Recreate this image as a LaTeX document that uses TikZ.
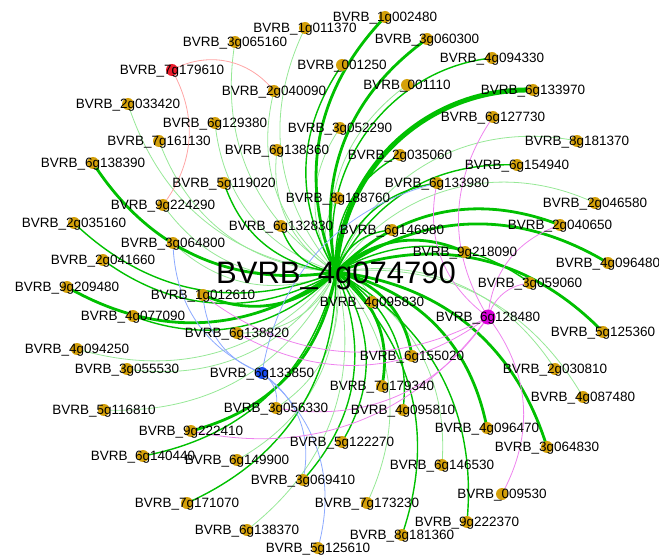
\documentclass[tikz,border=0pt]{standalone}
\usepackage{fontspec}
\setmainfont{Liberation Sans}
\pgfdeclarelayer{background}
\pgfsetlayers{background,main}
\definecolor{gold}{RGB}{212,160,10}
\definecolor{dg}{RGB}{0,192,0}
\definecolor{lg}{RGB}{150,232,150}
\definecolor{pk}{RGB}{255,165,165}
\definecolor{bl}{RGB}{140,170,255}
\definecolor{mg}{RGB}{238,130,238}
\definecolor{nred}{RGB}{235,30,45}
\definecolor{nblue}{RGB}{25,75,240}
\definecolor{nmag}{RGB}{220,0,220}
\tikzset{
  dot/.style={circle,fill=gold,inner sep=0pt,minimum size=12pt},
  lbl/.style={font=\fontsize{13.5}{14}\selectfont,inner sep=0pt,text height=9.7pt,text depth=0pt},
  biglbl/.style={font=\fontsize{31}{32}\selectfont,inner sep=0pt,text height=22pt,text depth=0pt},
  e0/.style={draw=lg,line width=0.8pt},
  e1/.style={draw=dg,line width=1.4pt},
  e2/.style={draw=dg,line width=2.8pt},
  e3/.style={draw=dg,line width=5pt},
  ep/.style={draw=pk,line width=0.8pt},
  eb/.style={draw=bl,line width=0.8pt},
  em/.style={draw=mg,line width=0.8pt},
}
\newcommand\GN[4][gold]{\node[dot,fill=#1,label={[lbl]center:BVRB\_#2}] (n#2) at (#3pt,-#4pt) {};}
\begin{document}
\begin{tikzpicture}[x=1pt,y=1pt]
\useasboundingbox (0,0) rectangle (659,-559);
\node[dot,fill=dg,minimum size=14pt,label={[biglbl]center:BVRB\_4g074790}] (c) at (336pt,-272pt) {};
\GN{1g002480}{385}{17}
\GN{1g011370}{305}{28}
\GN{3g065160}{235}{42}
\GN{3g060300}{427}{39}
\GN[nred]{7g179610}{172}{70}
\GN{001250}{342}{65}
\GN{4g094330}{492}{58}
\GN{001110}{407}{85}
\GN{2g040090}{274}{91}
\GN{2g033420}{128}{104}
\GN{6g133970}{533}{90}
\GN{6g129380}{215}{123}
\GN{6g127730}{493}{117}
\GN{3g052290}{340}{128}
\GN{8g181370}{577}{141}
\GN{7g161130}{159}{141}
\GN{6g138360}{277}{150}
\GN{6g138390}{93}{163}
\GN{2g035060}{400}{155}
\GN{6g154940}{517}{165}
\GN{5g119020}{224}{183}
\GN{6g133980}{437}{183}
\GN{8g188760}{338}{198}
\GN{9g224290}{163}{205}
\GN{2g046580}{595}{203}
\GN{2g035160}{74}{223}
\GN{6g132830}{281}{226}
\GN{2g040650}{560}{225}
\GN{3g064800}{173}{243}
\GN{6g146980}{392}{230}
\GN{9g218090}{465}{252}
\GN{2g041660}{103}{260}
\GN{4g096480}{608}{263}
\GN{9g209480}{67}{287}
\GN{3g059060}{530}{283}
\GN{1g012610}{203}{295}
\GN{4g095830}{372}{302}
\node[dot,fill=nmag,minimum size=15pt,label={[lbl]center:BVRB\_6g128480}] (n6g128480) at (488pt,-317pt) {};
\GN{4g077090}{133}{316}
\GN{6g138820}{237}{333}
\GN{5g125360}{603}{332}
\GN{4g094250}{77}{349}
\GN{3g055530}{127}{369}
\GN[nblue]{6g133850}{262}{373}
\GN{6g155020}{412}{356}
\GN{2g030810}{555}{369}
\GN{7g179340}{382}{386}
\GN{4g087480}{583}{397}
\GN{5g116810}{104}{410}
\GN{3g056330}{276}{408}
\GN{4g095810}{403}{410}
\GN{9g222410}{191}{431}
\GN{5g122270}{342}{442}
\GN{4g096470}{487}{428}
\GN{3g064830}{547}{447}
\GN{6g140440}{143}{456}
\GN{6g149900}{237}{460}
\GN{6g146530}{442}{465}
\GN{3g069410}{303}{480}
\GN{7g171070}{187}{503}
\GN{7g173230}{367}{503}
\GN{009530}{502}{494}
\GN{9g222370}{467}{522}
\GN{6g138370}{247}{530}
\GN{8g181360}{402}{535}
\GN{5g125610}{318}{548}
\begin{pgfonlayer}{background}
\foreach \t in {1g011370,3g065160,001110,2g040090,2g033420,6g129380,3g052290,7g161130,6g138360,8g188760,9g224290,6g138820,4g094250,3g055530,4g087480,5g116810,3g056330,2g030810,6g149900,6g146530,7g173230,6g138370,4g095830,3g064800}
  \draw[e0] (c.center) to[bend left=33] (n\t.center);
\foreach \t in {8g181370,2g046580}
  \draw[e0] (c.center) to[bend left=40] (n\t.center);
\foreach \t in {001250,2g035060,6g154940,5g119020,6g133980,2g035160,6g132830,6g146980,2g041660,3g059060,4g077090,4g095810,5g122270,6g140440,3g069410,7g171070,9g222370,8g181360}
  \draw[e1] (c.center) to[bend left=33] (n\t.center);
\draw[e1] (c.center) to[bend left=48] (n4g094330.center);
\foreach \t in {1g002480,3g060300,6g138390,9g209480,4g096480,2g040650,9g218090,5g125360,3g064830,6g155020,7g179340,4g096470,9g222410,1g012610}
  \draw[e2] (c.center) to[bend left=33] (n\t.center);
\draw[e3] (c.center) to[bend left=44] (n6g133970.center);
\draw[ep] (n7g179610.center) to[bend left=40] (n2g040090.center);
\draw[ep] (n7g179610.center) to[bend left=33] (n9g224290.center);
\foreach \t in {6g133980,3g064800,1g012610,5g125610,3g056330,3g069410}
  \draw[eb] (n6g133850.center) to[bend left=33] (n\t.center);
\foreach \t in {6g127730,6g133980,2g040650,009530,9g222410,1g012610,6g138820,3g056330,3g059060}
  \draw[em] (n6g128480.center) to[bend left=33] (n\t.center);
\end{pgfonlayer}
\end{tikzpicture}
\end{document}
